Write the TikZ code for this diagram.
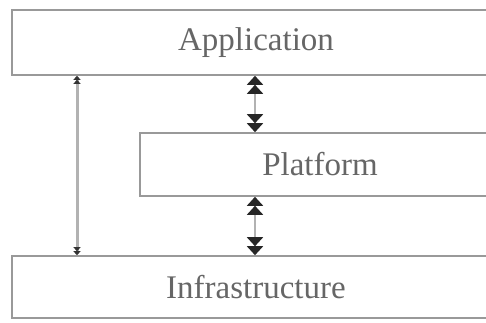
\documentclass[tikz,border=0pt]{standalone}
\usepackage{fontspec}
\setmainfont{Liberation Serif}
\usepackage{tikz}
\usetikzlibrary{arrows.meta,calc,positioning}
\tikzset{
	layer/.style = {rectangle,draw=black!40,line width=1.6pt,fill=white,text=black!60,inner sep=0pt},
	link/.style  = {draw=black!30,line width=1.8pt,
		{Triangle[length=9pt,width=16pt,color=black!85]Triangle[length=9pt,width=16pt,color=black!85]}-{Triangle[length=9pt,width=16pt,color=black!85]Triangle[length=9pt,width=16pt,color=black!85]}},
	bypass/.style = {draw=black!30,line width=3pt,
		{Triangle[length=4pt,width=7pt,color=black!80]Triangle[length=4pt,width=7pt,color=black!80]}-{Triangle[length=4pt,width=7pt,color=black!80]Triangle[length=4pt,width=7pt,color=black!80]}},
}
\begin{document}
\begin{tikzpicture}[x=1pt, y=-1pt, font=\fontsize{33}{38}\selectfont]
		\useasboundingbox (0,0) rectangle (486,322);
		\clip (0,0) rectangle (486,322);
		\fill[white] (0,0) rectangle (486,322);
		% the three layers
		\node[layer, minimum width=488pt, minimum height=65pt] (app) at (256,42.5) {Application};
		\node[layer, minimum width=360pt, minimum height=63pt] (plat) at (320,164.5) {Platform};
		\node[layer, minimum width=488pt, minimum height=62pt] (infra) at (256,287) {Infrastructure};
		% links between layers
		\coordinate (mid) at (255,0);
		\coordinate (side) at (77,0);
		\draw[link] (app.south -| mid) -- (plat.north -| mid);
		\draw[link] (plat.south -| mid) -- (infra.north -| mid);
		\draw[bypass] (app.south -| side) -- (infra.north -| side);
	\end{tikzpicture}
\end{document}
